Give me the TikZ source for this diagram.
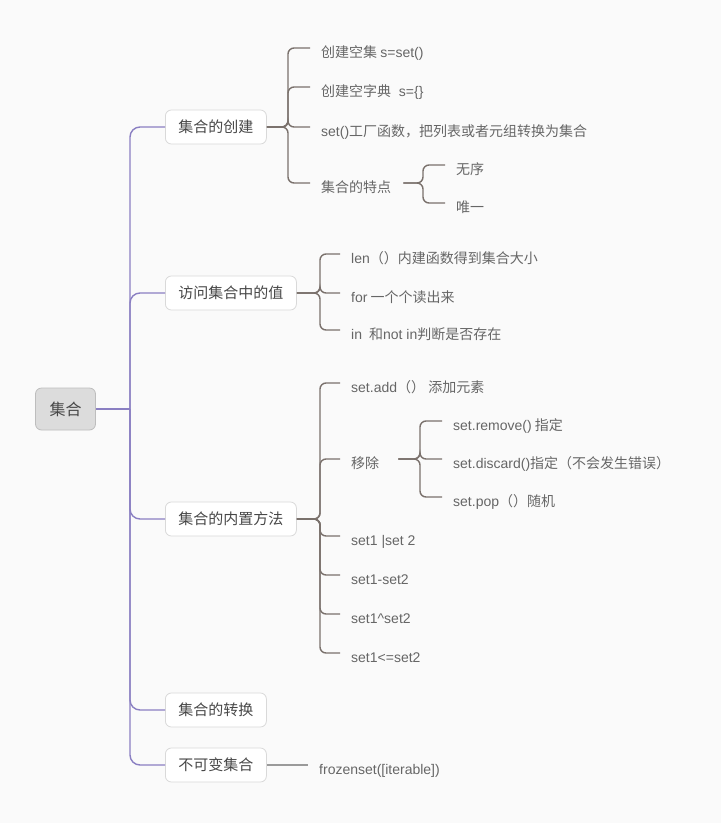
\documentclass[tikz,border=0pt]{standalone}
\usepackage{fontspec}
\setmainfont{Noto Sans CJK SC}
\newfontfamily\latinfont{Liberation Sans}
\newcommand{\lat}[1]{{\latinfont #1}}
\definecolor{bgc}{HTML}{FAFAFA}
\definecolor{spinec}{HTML}{8A7FC2}
\definecolor{brc}{HTML}{7A716C}
\definecolor{plainc}{HTML}{9A9A9A}
\definecolor{maintxt}{HTML}{474747}
\definecolor{leaftxt}{HTML}{666666}
\definecolor{rootfill}{HTML}{DCDCDC}
\definecolor{rootdraw}{HTML}{BDBDBD}
\definecolor{maindraw}{HTML}{D9D9D9}
\tikzset{
  rootbox/.style={draw=rootdraw, fill=rootfill, rounded corners=6pt, line width=0.8pt,
    minimum height=42pt, inner xsep=14pt, text=maintxt, font=\fontsize{16}{18}\selectfont},
  mainbox/.style={draw=maindraw, fill=white, rounded corners=6pt, line width=0.8pt, anchor=west,
    minimum height=34pt, inner xsep=13pt, text=maintxt, font=\fontsize{15}{17}\selectfont},
  leaf/.style={anchor=west, inner xsep=11pt, inner ysep=0pt, text height=19pt, text depth=0pt,
    text=leaftxt, font=\fontsize{14}{16}\selectfont},
  spine/.style={draw=spinec, line width=1.4pt, rounded corners=10pt},
  br/.style={draw=brc, line width=1.4pt, rounded corners=6pt},
  plain/.style={draw=plainc, line width=1.4pt}
}
\begin{document}
\begin{tikzpicture}[x=1pt,y=-1pt]
\fill[bgc] (0,0) rectangle (721,823);
\useasboundingbox (0,0) rectangle (721,823);

% root and main nodes
\node[rootbox] (root) at (65.5,409) {集合};
\node[mainbox] (m1) at (165,127) {集合的创建};
\node[mainbox] (m2) at (165,293) {访问集合中的值};
\node[mainbox] (m3) at (165,519) {集合的内置方法};
\node[mainbox] (m4) at (165,710) {集合的转换};
\node[mainbox] (m5) at (165,765) {不可变集合};

% leaves of m1
\node[leaf] (c11) at (310,48) {创建空集 \lat{s=set()}};
\node[leaf] (c12) at (310,87) {创建空字典\lat{\ \ s=\{\}}};
\node[leaf] (c13) at (310,127) {\lat{set()}工厂函数，把列表或者元组转换为集合};
\node[leaf] (c14) at (310,183) {集合的特点};
\node[leaf] (c141) at (445,165) {无序};
\node[leaf] (c142) at (445,203) {唯一};

% leaves of m2
\node[leaf] (c21) at (340,254) {\lat{len}（）内建函数得到集合大小};
\node[leaf] (c22) at (340,293) {\lat{for} 一个个读出来};
\node[leaf] (c23) at (340,330) {\lat{in}\enspace 和\lat{not in}判断是否存在};

% leaves of m3
\node[leaf] (c31) at (340,383) {\lat{set.add}（）\ 添加元素};
\node[leaf] (c32) at (340,459) {移除};
\node[leaf] (c321) at (442,421) {\lat{set.remove()} 指定};
\node[leaf] (c322) at (442,459) {\lat{set.discard()}指定（不会发生错误）};
\node[leaf] (c323) at (442,497) {\lat{set.pop}（）随机};
\node[leaf] (c33) at (340,536) {\lat{set1 |set 2}};
\node[leaf] (c34) at (340,575) {\lat{set1-set2}};
\node[leaf] (c35) at (340,614) {\lat{set1\textasciicircum set2}};
\node[leaf] (c36) at (340,653) {\lat{set1<=set2}};

% leaf of m5
\node[leaf] (c51) at (308,765) {\lat{frozenset([iterable])}};

% spine
\coordinate (sp) at (130,409);
\draw[spine] (root.east) -- (sp);
\foreach \m in {m1,m2,m3,m4,m5} \draw[spine] (sp) |- (\m.west);

% brackets
\coordinate (b1) at (288,127);
\foreach \c in {c11,c12,c13,c14} \draw[br] (m1.east) -- (b1) |- (\c.west);
\coordinate (b14) at (423,183);
\foreach \c in {c141,c142} \draw[br] ([xshift=1pt]c14.east) -- (b14) |- (\c.west);
\coordinate (b2) at (320,293);
\foreach \c in {c21,c22,c23} \draw[br] (m2.east) -- (b2) |- (\c.west);
\coordinate (b3) at (320,519);
\foreach \c in {c31,c32,c33,c34,c35,c36} \draw[br] (m3.east) -- (b3) |- (\c.west);
\coordinate (b32) at (420,459);
\foreach \c in {c321,c322,c323} \draw[br] ([xshift=8pt]c32.east) -- (b32) |- (\c.west);
\draw[plain] (m5.east) -- (c51.west);
\end{tikzpicture}
\end{document}
